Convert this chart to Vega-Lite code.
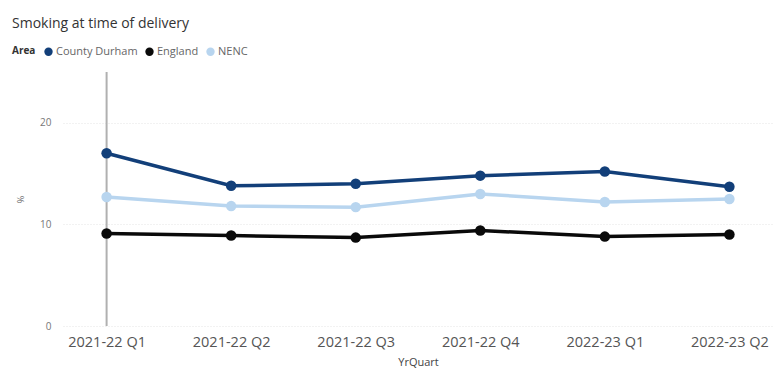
{
  "$schema": "https://vega.github.io/schema/vega-lite/v6.json",
  "width": 710,
  "height": 254,
  "autosize": {"type": "none"},
  "padding": {"left": 63, "top": 72, "right": 4, "bottom": 46},
  "background": "white",
  "title": {
    "text": "Smoking at time of delivery",
    "anchor": "start",
    "frame": "group",
    "dx": -51,
    "offset": 15,
    "fontSize": 14,
    "fontWeight": "normal",
    "font": "Open Sans",
    "color": "#333333"
  },
  "data": {
    "values": [
      {"YrQuart": "2021-22 Q1", "Area": "County Durham", "value": 17.0},
      {"YrQuart": "2021-22 Q2", "Area": "County Durham", "value": 13.8},
      {"YrQuart": "2021-22 Q3", "Area": "County Durham", "value": 14.0},
      {"YrQuart": "2021-22 Q4", "Area": "County Durham", "value": 14.8},
      {"YrQuart": "2022-23 Q1", "Area": "County Durham", "value": 15.2},
      {"YrQuart": "2022-23 Q2", "Area": "County Durham", "value": 13.7},
      {"YrQuart": "2021-22 Q1", "Area": "England", "value": 9.1},
      {"YrQuart": "2021-22 Q2", "Area": "England", "value": 8.9},
      {"YrQuart": "2021-22 Q3", "Area": "England", "value": 8.7},
      {"YrQuart": "2021-22 Q4", "Area": "England", "value": 9.4},
      {"YrQuart": "2022-23 Q1", "Area": "England", "value": 8.8},
      {"YrQuart": "2022-23 Q2", "Area": "England", "value": 9.0},
      {"YrQuart": "2021-22 Q1", "Area": "NENC", "value": 12.7},
      {"YrQuart": "2021-22 Q2", "Area": "NENC", "value": 11.8},
      {"YrQuart": "2021-22 Q3", "Area": "NENC", "value": 11.7},
      {"YrQuart": "2021-22 Q4", "Area": "NENC", "value": 13.0},
      {"YrQuart": "2022-23 Q1", "Area": "NENC", "value": 12.2},
      {"YrQuart": "2022-23 Q2", "Area": "NENC", "value": 12.5}
    ]
  },
  "encoding": {
    "x": {
      "field": "YrQuart",
      "type": "ordinal",
      "scale": {"type": "point", "padding": 0.35},
      "axis": {
        "title": "YrQuart",
        "labelAngle": 0,
        "labelFontSize": 14.5,
        "labelColor": "#555555",
        "labelFont": "Open Sans",
        "titleFont": "Open Sans",
        "titleFontSize": 11,
        "titleFontWeight": "normal",
        "titleColor": "#444444",
        "titlePadding": 8,
        "domain": false,
        "ticks": false,
        "grid": false,
        "labelPadding": 9
      }
    }
  },
  "layer": [
    {
      "data": {"values": [{"YrQuart": "2021-22 Q1"}]},
      "mark": {"type": "rule", "color": "#b0b0b0", "strokeWidth": 2},
      "encoding": {"x": {"field": "YrQuart", "type": "ordinal"}}
    },
    {
      "mark": {"type": "line", "strokeWidth": 3.5, "point": {"size": 110, "filled": true, "opacity": 1}},
      "encoding": {
        "y": {
          "field": "value",
          "type": "quantitative",
          "scale": {"domain": [0, 25], "nice": false},
          "axis": {
            "title": "%",
            "values": [0, 10, 20],
            "labelFontSize": 10,
            "labelColor": "#777777",
            "labelFont": "Open Sans",
            "titleFont": "Open Sans",
            "titleFontSize": 9,
            "titleFontWeight": "normal",
            "titleColor": "#666666",
            "titlePadding": 14,
            "domain": false,
            "ticks": false,
            "labelPadding": 12,
            "gridColor": "#e4e4e4",
            "gridDash": [1, 2],
            "gridWidth": 1
          }
        },
        "color": {
          "field": "Area",
          "type": "nominal",
          "scale": {
            "domain": ["County Durham", "England", "NENC"],
            "range": ["#123f79", "#0a0a0a", "#b8d5ef"]
          },
          "legend": {
            "orient": "none",
            "direction": "horizontal",
            "legendX": -51,
            "legendY": -26,
            "title": "Area",
            "titleOrient": "left",
            "titleFontSize": 10,
            "titleFontWeight": "bold",
            "titleColor": "#333333",
            "titleFont": "Open Sans",
            "labelFont": "Open Sans",
            "labelFontSize": 11,
            "labelColor": "#666666",
            "symbolType": "circle",
            "symbolSize": 70,
            "symbolStrokeWidth": 0,
            "labelOffset": 2,
            "columnPadding": 6,
            "titlePadding": 7
          }
        }
      }
    }
  ],
  "config": {
    "view": {"stroke": null}
  }
}
